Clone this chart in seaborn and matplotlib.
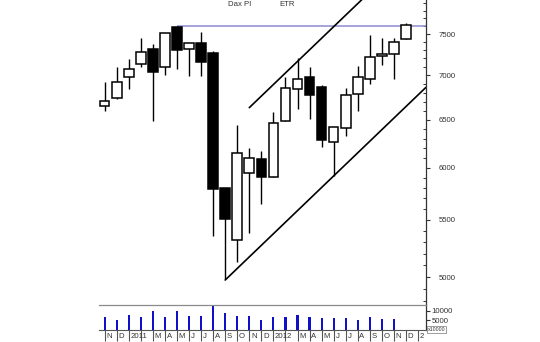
import numpy as np
import pandas as pd
import matplotlib
matplotlib.use("Agg")
import matplotlib.pyplot as plt
import matplotlib.ticker as mticker
import matplotlib.transforms as mtrans
import seaborn as sns

# ---------------- data (monthly DAX, Nov 2010 - Dec 2012) ----------------
months = ["2010-11", "2010-12", "2011-01", "2011-02", "2011-03", "2011-04",
          "2011-05", "2011-06", "2011-07", "2011-08", "2011-09", "2011-10",
          "2011-11", "2011-12", "2012-01", "2012-02", "2012-03", "2012-04",
          "2012-05", "2012-06", "2012-07", "2012-08", "2012-09", "2012-10",
          "2012-11", "2012-12"]
opens  = [6651, 6744, 6977, 7130, 7315, 7095, 7590, 7315, 7385, 7262, 5798, 5319,
          5944, 6085, 5911, 6490, 6839, 6977, 6868, 6266, 6408, 6782, 6957, 7233,
          7254, 7438]
highs  = [6920, 7095, 7190, 7447, 7372, 7517, 7600, 7385, 7522, 7294, 5798, 6444,
          6204, 6173, 6582, 6977, 7202, 7095, 6888, 6425, 6850, 7113, 7488, 7454,
          7447, 7635]
lows   = [6596, 6729, 6839, 7095, 6490, 7004, 7071, 6992, 6992, 5354, 4981, 5129,
          5378, 5645, 5911, 6490, 6614, 6505, 6215, 5918, 6330, 6596, 6896, 7122,
          6954, 7438]
closes = [6707, 6923, 7078, 7274, 7043, 7517, 7302, 7385, 7157, 5791, 5508, 6147,
          6095, 5911, 6468, 6857, 6954, 6774, 6284, 6425, 6774, 6977, 7222, 7257,
          7404, 7613]
volumes = [6790, 5030, 7700, 6790, 9840, 6630, 9840, 7330, 7330, 12830, 8930, 7330,
           7330, 5350, 6790, 6630, 7700, 6630, 6100, 6260, 6260, 5190, 6630, 5720,
           5720, 0]
month_labels = ["N", "D", "2011", "", "M", "A", "M", "J", "J", "A", "S", "O", "N",
                "D", "2012", "", "M", "A", "M", "J", "J", "A", "S", "O", "N", "D", "2"]

resistance_level = 7600
resistance_start = 6
trend_lower_x = [10.0, 26.66]
trend_lower_y = [4975, 6862]
trend_upper_x = [12.0, 26.66]
trend_upper_y = [6633, 8802]

price_ticks = [5000, 5500, 6000, 6500, 7000, 7500]
vol_ticks = [5000, 10000]

# ---------------- styling ----------------
sns.set_theme(style="white")
plt.rcParams["font.family"] = ["Liberation Sans", "DejaVu Sans"]
FS = 5.6
TXT = "#333333"

df = pd.DataFrame({"month": months, "open": opens, "high": highs,
                   "low": lows, "close": closes, "volume": volumes})
df["i"] = np.arange(len(df))
df["up"] = df["close"] >= df["open"]

fig = plt.figure(figsize=(5.4, 3.42), dpi=100)
W, H = 540.0, 342.0
x0, x1 = 99.0, 426.0
ax = fig.add_axes([x0 / W, 1 - 305 / H, (x1 - x0) / W, 305 / H])
axv = fig.add_axes([x0 / W, 1 - 329.7 / H, (x1 - x0) / W, 24.7 / H])

xlim = (-0.47, 26.66)

# ---------------- candles ----------------
ax.set_yscale("log")
ax.vlines(df["i"], df["low"], df["high"], color="black", lw=1.0, zorder=2)
body_lo = np.minimum(df["open"], df["close"])
body_h = np.maximum(np.abs(df["close"] - df["open"]), 3)
ax.bar(df["i"], body_h, bottom=body_lo, width=0.8,
       color=np.where(df["up"], "white", "black"), edgecolor="black",
       linewidth=1.1, zorder=3)

# reference lines
ax.hlines(resistance_level, resistance_start, xlim[1], color="#8c8cd0", lw=1.1, zorder=1)
sns.lineplot(x=trend_lower_x, y=trend_lower_y, ax=ax, color="black", lw=1.2,
             zorder=4, legend=False)
sns.lineplot(x=trend_upper_x, y=trend_upper_y, ax=ax, color="black", lw=1.2,
             zorder=4, legend=False)

ax.set_xlim(*xlim)
ax.set_ylim(4772, 7938)
ax.yaxis.tick_right()
ax.yaxis.set_major_locator(mticker.FixedLocator(price_ticks))
ax.yaxis.set_major_formatter(mticker.FuncFormatter(lambda v, p: f"{v:.0f}"))
ax.yaxis.set_minor_locator(mticker.FixedLocator(
    [v for v in range(4800, 8000, 100) if v not in price_ticks]))
ax.yaxis.set_minor_formatter(mticker.NullFormatter())
ax.tick_params(axis="y", which="major", direction="out", length=3, width=0.8,
               color="#333333", labelsize=FS, labelcolor=TXT, pad=6, right=True, left=False)
ax.tick_params(axis="y", which="minor", direction="in", length=2, width=0.7,
               color="#333333", right=True, left=False)
ax.set_xticks([])
for s in ["left", "top", "bottom"]:
    ax.spines[s].set_visible(False)
ax.spines["right"].set_color("#333333")
ax.spines["right"].set_linewidth(0.9)
ax.set_xlabel("")
ax.set_ylabel("")
ax.patch.set_alpha(0)

# ---------------- volume ----------------
sns.barplot(x=df["i"], y=df["volume"], ax=axv, native_scale=True, width=0.18,
            color="#1010c8", saturation=1, linewidth=0, errorbar=None)
axv.set_xlim(*xlim)
axv.set_ylim(0, 13200)
axv.yaxis.tick_right()
axv.set_yticks(vol_ticks)
axv.set_yticklabels([f"{v}" for v in vol_ticks])
axv.tick_params(axis="y", direction="out", length=3, width=0.8, color="#333333",
                labelsize=FS, labelcolor=TXT, pad=1, right=True, left=False)
axv.set_xticks(np.arange(len(month_labels)))
axv.set_xticklabels([])
axv.tick_params(axis="x", direction="out", length=8, width=0.8, color="#555555",
                bottom=True)
axv.spines["left"].set_visible(False)
axv.spines["top"].set_color("#8a8a8a")
axv.spines["top"].set_linewidth(0.9)
axv.spines["bottom"].set_color("#555555")
axv.spines["bottom"].set_linewidth(0.8)
axv.spines["right"].set_color("#333333")
axv.spines["right"].set_linewidth(0.9)
axv.set_xlabel("")
axv.set_ylabel("")

trans = mtrans.blended_transform_factory(axv.transData, axv.transAxes)
for i, lab in enumerate(month_labels):
    if lab:
        axv.text(i + 0.14, -0.27, lab, transform=trans, ha="left", va="center",
                 fontsize=FS, color=TXT)

fig.text(428 / W, 1 - 329.5 / H, "x10000", fontsize=3.8, color=TXT,
         ha="left", va="center",
         bbox=dict(boxstyle="square,pad=0.12", fc="white", ec="#777777", lw=0.5))

# ---------------- titles ----------------
fig.text(228.5 / W, 1 - 5 / H, "Dax PI", fontsize=FS, color=TXT, ha="left", va="center")
fig.text(279 / W, 1 - 5 / H, "ETR", fontsize=FS, color=TXT, ha="left", va="center")

fig.savefig("out.png", dpi=100, facecolor="white")
